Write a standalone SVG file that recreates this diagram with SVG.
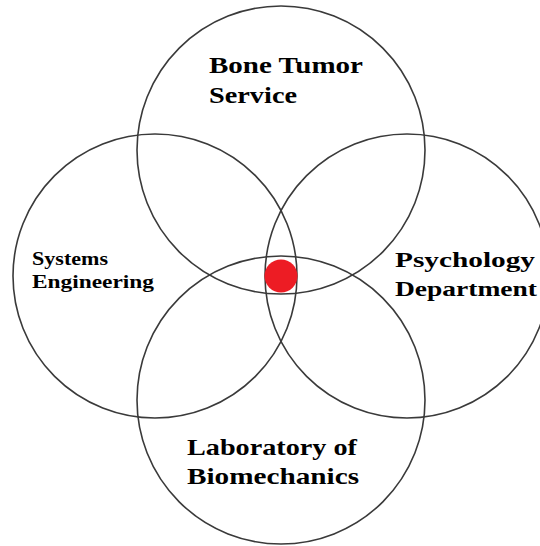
<svg xmlns="http://www.w3.org/2000/svg" width="540" height="546" viewBox="0 0 540 546">
<style>
.ring{fill:none;stroke:#3a3a3a;stroke-width:1.6}
.lbl{font-family:"Liberation Serif","Times New Roman",serif;font-weight:bold;fill:#000}
</style>
<rect x="0" y="0" width="540" height="546" fill="#ffffff"/>
<g id="bone-tumor-service">
<circle class="ring" cx="281" cy="150" r="144"/>
<text class="lbl" font-size="23"><tspan x="209" y="73" textLength="154" lengthAdjust="spacingAndGlyphs">Bone Tumor</tspan><tspan x="209" y="103" textLength="88" lengthAdjust="spacingAndGlyphs">Service</tspan></text>
</g>
<g id="systems-engineering">
<circle class="ring" cx="155" cy="276" r="142"/>
<text class="lbl" font-size="18"><tspan x="32" y="265" textLength="76" lengthAdjust="spacingAndGlyphs">Systems</tspan><tspan x="32" y="288" textLength="122" lengthAdjust="spacingAndGlyphs">Engineering</tspan></text>
</g>
<g id="psychology-department">
<circle class="ring" cx="407" cy="276" r="142"/>
<text class="lbl" font-size="22"><tspan x="395" y="267" textLength="140" lengthAdjust="spacingAndGlyphs">Psychology</tspan><tspan x="395" y="296" textLength="142" lengthAdjust="spacingAndGlyphs">Department</tspan></text>
</g>
<g id="laboratory-of-biomechanics">
<circle class="ring" cx="281" cy="400" r="144"/>
<text class="lbl" font-size="24"><tspan x="187" y="455" textLength="170" lengthAdjust="spacingAndGlyphs">Laboratory of</tspan><tspan x="187" y="484" textLength="172" lengthAdjust="spacingAndGlyphs">Biomechanics</tspan></text>
</g>
<g id="center-point">
<circle cx="281" cy="276" r="16.5" fill="#ed1c24"/>
</g>
</svg>
